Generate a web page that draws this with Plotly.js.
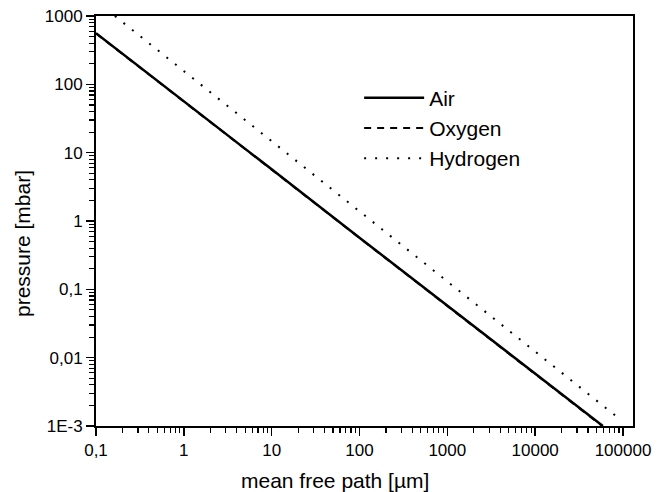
<!DOCTYPE html>
<html>
<head>
<meta charset="utf-8">
<script src="https://cdn.plot.ly/plotly-3.0.1.min.js"></script>
<style>html,body{margin:0;padding:0;background:#fff;}#chart{width:662px;height:492px;}</style>
</head>
<body>
<div id="chart"></div>
<script>
// Data (mean free path in µm, pressure in mbar)
const airPath = [0.1, 1, 10, 100, 1000, 10000, 59000];
const airPressure = [560, 57, 5.7, 0.57, 0.058, 0.0058, 0.001];
const oxygenPath = [0.1, 1, 10, 100, 1000, 10000, 58000];
const oxygenPressure = [555, 56.5, 5.65, 0.565, 0.0575, 0.00575, 0.001];
const hydrogenPath = [0.164, 1, 10, 100, 1000, 10000, 86000];
const hydrogenPressure = [1000, 157, 14.7, 1.39, 0.13, 0.0123, 0.00135];

const xTickVals = [0.1, 1, 10, 100, 1000, 10000, 100000];
const xTickText = ["0,1", "1", "10", "100", "1000", "10000", "100000"];
const yTickVals = [0.001, 0.01, 0.1, 1, 10, 100, 1000];
const yTickText = ["1E-3", "0,01", "0,1", "1", "10", "100", "1000"];

// minor tick positions (2..9 within each decade)
function minorTicks(lo, hi) {
  const out = [];
  for (let d = lo; d <= hi; d++) {
    for (let k = 2; k <= 9; k++) out.push(k * Math.pow(10, d));
  }
  return out;
}

const traces = [
  {x: airPath, y: airPressure, name: "Air", mode: "lines", legendgroup: "a",
   line: {color: "#000", width: 2.5}},
  {x: oxygenPath, y: oxygenPressure, name: "Oxygen", mode: "lines", legendgroup: "b",
   line: {color: "#000", width: 2, dash: "7px,6px"}},
  {x: hydrogenPath, y: hydrogenPressure, name: "Hydrogen", mode: "lines", legendgroup: "c",
   line: {color: "#000", width: 2, dash: "2px,9px"}}
];

const font = "Liberation Sans, Arial, sans-serif";
const axisCommon = {
  type: "log", tickmode: "array",
  ticks: "outside", ticklen: 8, tickwidth: 1.5, tickcolor: "#000",
  showline: true, linewidth: 2, linecolor: "#000", mirror: true,
  showgrid: false, zeroline: false,
  tickfont: {size: 17}
};
const layout = {
  width: 662, height: 492,
  margin: {l: 96, r: 29, t: 16, b: 66},
  paper_bgcolor: "#fff", plot_bgcolor: "#fff",
  font: {family: font, color: "#000", size: 17},
  showlegend: true,
  legend: {x: 0.49, y: 0.85, xanchor: "left", yanchor: "top",
           bgcolor: "rgba(0,0,0,0)", font: {size: 21, family: font},
           tracegroupgap: 0, itemwidth: 60},
  xaxis: Object.assign({}, axisCommon, {
    range: [-1, 5.114],
    tickvals: xTickVals, ticktext: xTickText,
    minor: {tickmode: "array", tickvals: minorTicks(-1, 5), ticks: "outside", ticklen: 5,
            tickwidth: 1.2, tickcolor: "#000", showgrid: false}
  }),
  yaxis: Object.assign({}, axisCommon, {
    range: [-3, 3],
    tickvals: yTickVals, ticktext: yTickText,
    minor: {tickmode: "array", tickvals: minorTicks(-3, 2), ticks: "outside", ticklen: 5,
            tickwidth: 1.2, tickcolor: "#000", showgrid: false}
  }),
  annotations: [
    {text: "mean free path [µm]", xref: "paper", yref: "paper", x: 0.445, y: -0.132,
     xanchor: "center", yanchor: "middle", showarrow: false, font: {size: 21}},
    {text: "pressure [mbar]", xref: "paper", yref: "paper", x: -0.138, y: 0.446,
     xanchor: "center", yanchor: "middle", textangle: -90, showarrow: false, font: {size: 21}}
  ]
};

Plotly.newPlot("chart", traces, layout, {displayModeBar: false, staticPlot: true});
</script>
</body>
</html>
